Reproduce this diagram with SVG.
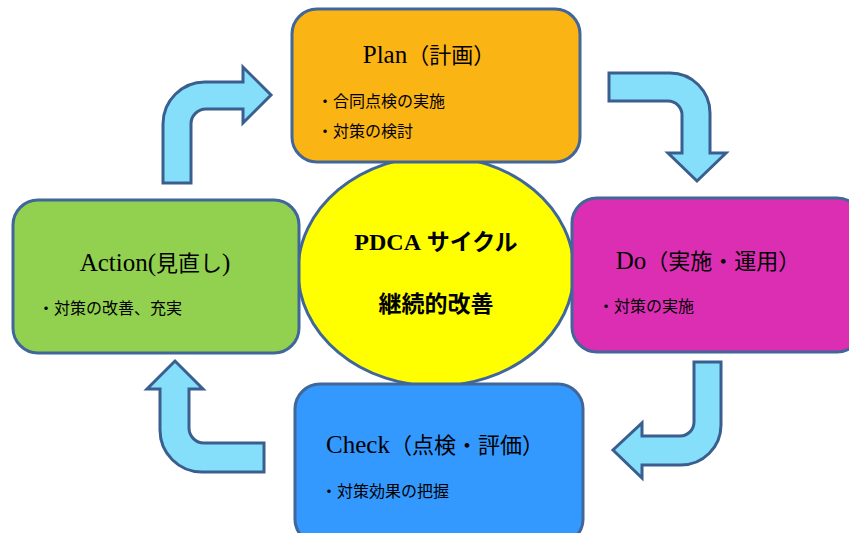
<svg xmlns="http://www.w3.org/2000/svg" width="849" height="533" viewBox="0 0 849 533">
<defs>
<style>
.box{stroke:#41679A;stroke-width:3}
.arrow{fill:#86DFFA;stroke:#3A5F8F;stroke-width:3;stroke-linejoin:miter}
.title{font-family:"Liberation Serif","Noto Sans CJK JP",serif;font-size:22px;fill:#000;text-anchor:middle}
.lat{font-size:25px}
.item{font-family:"Liberation Serif","Noto Sans CJK JP",serif;font-size:16px;fill:#000}
.center{font-family:"Liberation Serif","Noto Sans CJK JP",serif;font-size:23px;font-weight:bold;fill:#000;text-anchor:middle}
</style>
</defs>
<rect width="849" height="533" fill="#fff"/>
<g id="center">
<ellipse cx="436" cy="271" rx="138" ry="115" fill="#FFFF00" class="box"/>
<text class="center" x="436" y="250"><tspan font-size="24">PDCA</tspan> サイクル</text>
<text class="center" x="436" y="312">継続的改善</text>
</g>
<g id="plan">
<rect x="292" y="9" width="288" height="153" rx="25" fill="#FAB414" class="box"/>
<text class="title" x="429" y="63"><tspan class="lat">Plan</tspan>（計画）</text>
<text class="item" x="317" y="107">・合同点検の実施</text>
<text class="item" x="317" y="137">・対策の検討</text>
</g>
<g id="action">
<rect x="13" y="200" width="286" height="153" rx="25" fill="#92D050" class="box"/>
<text class="title" x="155" y="271"><tspan class="lat">Action(</tspan>見直し<tspan class="lat">)</tspan></text>
<text class="item" x="38" y="314">・対策の改善、充実</text>
</g>
<g id="do">
<rect x="572" y="198" width="290" height="154" rx="25" fill="#DB2EB3" class="box"/>
<text class="title" x="708" y="269"><tspan class="lat">Do</tspan>（実施・運用）</text>
<text class="item" x="598" y="312">・対策の実施</text>
</g>
<g id="check">
<rect x="295" y="384" width="288" height="160" rx="25" fill="#3399FF" class="box"/>
<text class="title" x="435" y="453"><tspan class="lat">Check</tspan>（点検・評価）</text>
<text class="item" x="321" y="497">・対策効果の把握</text>
</g>
<g id="connectors">
<path class="arrow" d="M163,183 L163,124 A42,42 0 0 1 205,82 L243,82 L243,67 L271,95 L243,123 L243,109 L206,109 A15,15 0 0 0 191,124 L191,183 Z"/>
<path class="arrow" d="M609,73 L670,73 A40,40 0 0 1 710,113 L710,153 L726,153 L697,181 L668,153 L682,153 L682,115 A14,14 0 0 0 668,101 L609,101 Z"/>
<path class="arrow" d="M694,362 L721,362 L721,425 A40,40 0 0 1 681,465 L642,465 L642,478 L613,450 L642,423 L642,436 L680,436 A14,14 0 0 0 694,422 Z"/>
<path class="arrow" d="M264,443 L204,443 A15,15 0 0 1 189,428 L189,389 L203,389 L175,361 L147,389 L160,389 L160,430 A42,42 0 0 0 202,472 L264,472 Z"/>
</g>
</svg>
